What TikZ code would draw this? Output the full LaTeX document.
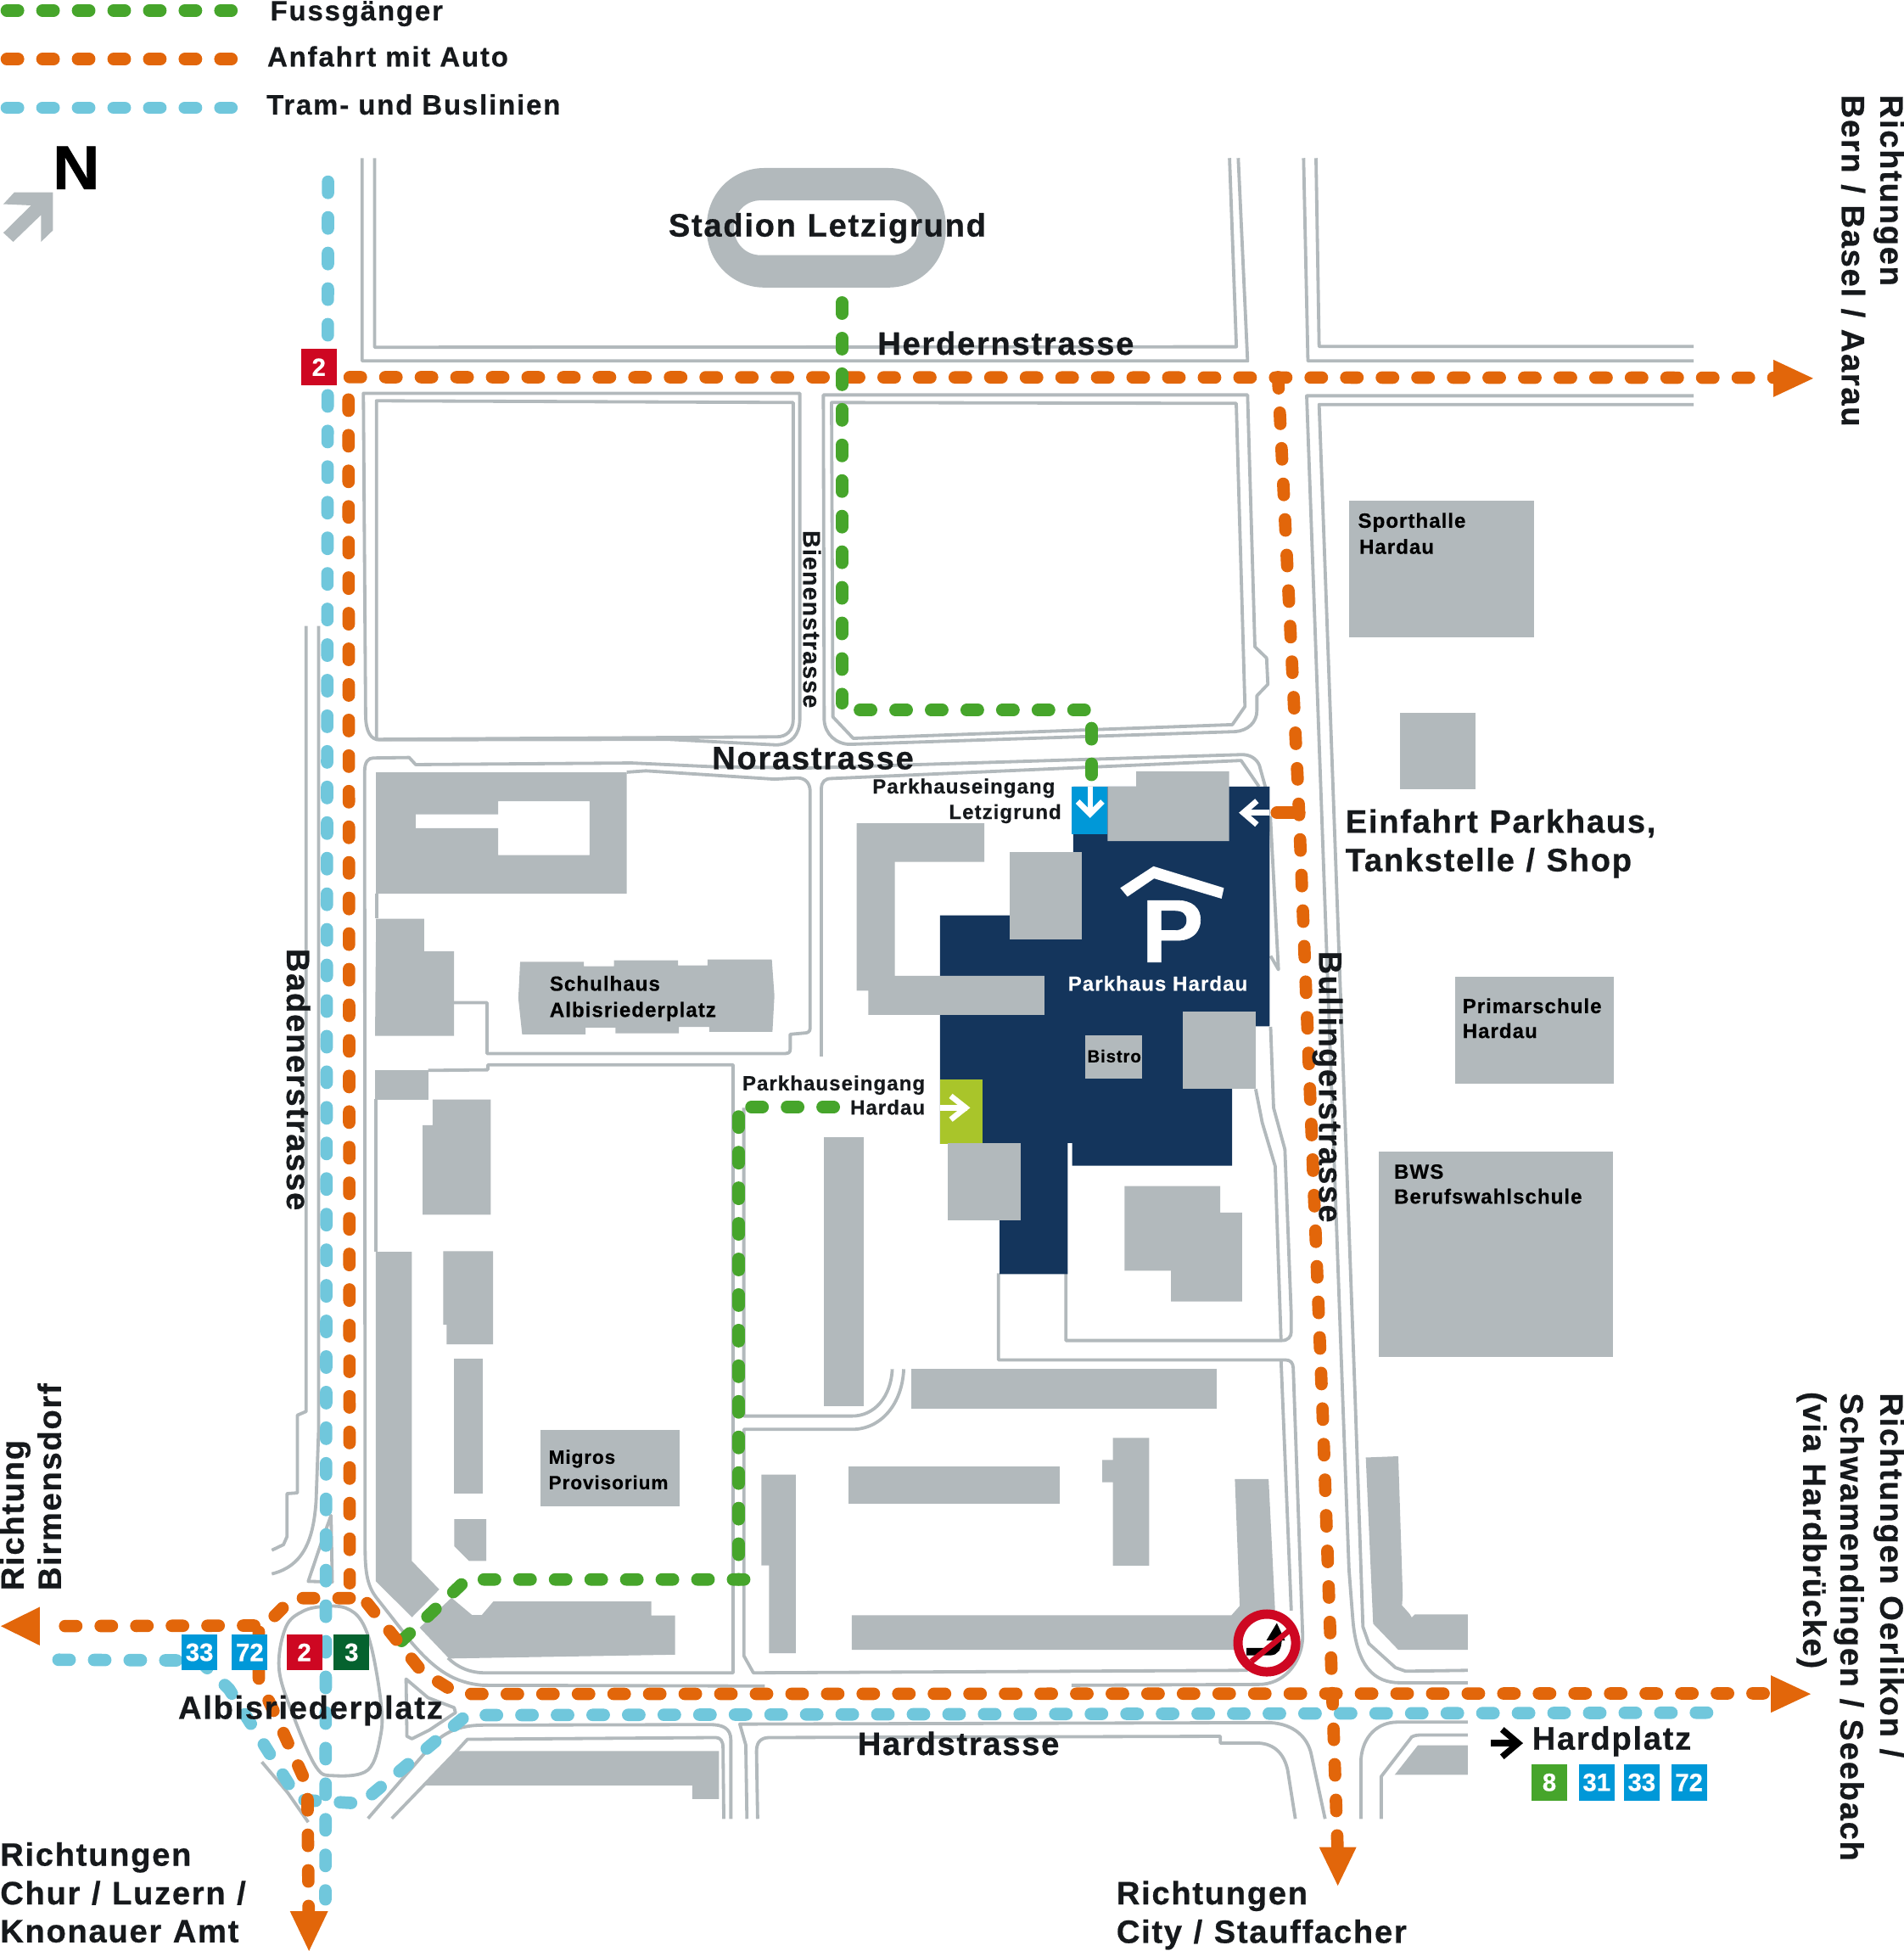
\documentclass[tikz,border=0pt]{standalone}
\usepackage{fontspec}
\usepackage{graphicx}
\setmainfont[BoldFeatures={FakeBold=0.6}]{Liberation Sans}
\newfontfamily\bigf[LetterSpace=4.5,WordSpace=1.1,BoldFeatures={FakeBold=0.6}]{Liberation Sans}
\newfontfamily\midf[LetterSpace=5.5,BoldFeatures={FakeBold=0.5}]{Liberation Sans}
\newfontfamily\smlf[LetterSpace=4,BoldFeatures={FakeBold=0.3}]{Liberation Sans}
\definecolor{bldg}{HTML}{B2B9BC}
\definecolor{navy}{HTML}{14355C}
\definecolor{orng}{HTML}{E2660A}
\definecolor{grn}{HTML}{46A52B}
\definecolor{tram}{HTML}{70C7DC}
\definecolor{blu}{HTML}{0098D8}
\definecolor{redd}{HTML}{CE0722}
\definecolor{dgrn}{HTML}{05622F}
\definecolor{lime}{HTML}{A9C52A}
\definecolor{ink}{HTML}{16191C}
\newcommand{\fs}[1]{\fontsize{#1}{#1}\selectfont}
\tikzset{
  road/.style={draw=bldg,line width=2.6pt,line join=round,fill=none},
  house/.style={fill=bldg,draw=none},
  route/.style={line width=10pt,line cap=round,dash pattern=on 9pt off 19.6pt},
  rgreen/.style={route,draw=grn},
  rorange/.style={route,draw=orng},
  rtram/.style={route,draw=tram},
  tiphead/.style={fill=orng,draw=none},
  biglab/.style={inner sep=0pt,anchor=base west,text=ink,font=\bigf\bfseries\fs{26}},
  midlab/.style={inner sep=0pt,anchor=base west,text=ink,font=\midf\bfseries\fs{22.5}},
  smalllab/.style={inner sep=0pt,anchor=base west,text=ink,font=\smlf\bfseries\fs{16.5}},
  houselab/.style={inner sep=0pt,anchor=base west,text=black,font=\smlf\bfseries\fs{16.5}},
  linebox/.style={inner sep=0pt,text=white,font=\bfseries\fs{20},minimum width=28.6pt,minimum height=29pt},
  whitearrow/.style={draw=white,line width=4.5pt,fill=none},
}
\begin{document}
\begin{tikzpicture}[x=1pt,y=-1pt]
\useasboundingbox (0,0) rectangle (1530,1567.5);

% ---------- roads ----------
\draw[road] (291,127)--(291,290)--(1002.5,290)--(995,127);
\draw[road] (301,127)--(301,279)--(993.5,278.6)--(988,127);
\draw[road] (1047.5,127)--(1051,290)--(1361,290);
\draw[road] (1057.5,127)--(1060,278.4)--(1361,278.4);
\draw[road] (1361,318)--(1050,318)--(1079,1125)--(1084,1261)--(1087,1300) .. controls (1090,1340) and (1105,1352) .. (1125,1352)--(1179.4,1352);
\draw[road] (1361,325)--(1060,325)--(1089,1125)--(1095.2,1307)--(1100,1320.5)--(1121.3,1339.8)--(1129.5,1342.7)--(1179.4,1342);
% block west of Bienenstrasse
\draw[road] (292,316)--(293.8,575) .. controls (294,588) and (298,594.4) .. (305,594.4)--(537,594)--(624,598.5) .. controls (636,598) and (642.7,590) .. (642.7,578)--(642.7,316)--cycle;
\draw[road] (302.5,322)--(637.4,323.4)--(637.4,578) .. controls (637.4,587) and (632,592) .. (624,592)--(302.5,594)--cycle;
% block east of Bienenstrasse
\draw[road] (1002.5,317.3)--(661.6,317.3)--(662.3,578.6) .. controls (663,590) and (672,598) .. (683.2,598)--(992.7,587.8) .. controls (1003,587) and (1010,580) .. (1010,571)--(1010,559)--(1018.8,549.8)--(1017.8,528.7)--(1008.4,519.6)--cycle;
\draw[road] (668.2,323.4)--(993.4,324.1)--(1000.4,567.6)--(990.3,582.2)--(685.6,593.2)--(669.3,576)--cycle;
% Norastrasse north line and west edge
\draw[road] (388,1354) .. controls (365,1352) and (350,1342) .. (331,1320)--(302,1283) .. controls (296,1275) and (293.4,1265) .. (293.4,1245)--(293,620) .. controls (293,612) and (296,609) .. (300,609)--(328.8,608.6)--(334,614.3)--(507.5,613)--(572.7,616)--(650,617)--(997.3,606.3) .. controls (1005,606) and (1010,610) .. (1012,615)--(1017,633);
\draw[road] (388,1354)--(614.5,1354.6);
% Norastrasse south, west part
\draw[road] (503.6,620.4)--(519,619.3)--(622.3,626)--(640.6,625) .. controls (647,625) and (651,629) .. (651,636)--(651,826) .. controls (651,829) and (649,830) .. (646,830)--(635,831)--(635,843) .. controls (635,846) and (633,846.5) .. (631,846.5)--(391.4,846.5)--(391.4,805.6)--(364.8,805.6);
\draw[road] (302.5,718)--(302.5,738);
\draw[road] (344,860)--(392,859.5)--(392,855.5)--(589,855.5)--(589,1344)--(390,1344) .. controls (378,1344) and (368,1340) .. (360,1332);
\draw[road] (302,883)--(302,1006);
% centre vertical and Norastrasse south, east part
\draw[road] (660,848.8)--(660,634) .. controls (660,628) and (663,625.5) .. (668,625.5)--(997.3,611)--(1011.7,632);
% right side of Parkhaus
\draw[road] (1020.8,655.6)--(1027.3,779)--(1021,768);
\draw[road] (1021,825)--(1023.4,890)--(1032.5,923.5)--(1037.6,1056.8)--(1037.6,1070) .. controls (1037.6,1074) and (1035,1077) .. (1030,1077)--(856.5,1077)--(856.5,1020);
\draw[road] (1009,875)--(1014.3,902)--(1024.7,937)--(1029.4,1077);
\draw[road] (802.3,1023)--(802.3,1092.6)--(1033,1092.6) .. controls (1037,1092.6) and (1039,1095) .. (1039.2,1099)--(1046.8,1315) .. controls (1046,1338) and (1030,1353.3) .. (1011.8,1353.3)--(861,1354);
\draw[road] (1029.4,1093)--(1037.6,1294);
% south of Migros block
\draw[road] (597.7,890)--(597.7,1137.7)--(684.5,1137.7) .. controls (703,1137.7) and (716,1122) .. (717,1100);
\draw[road] (726.2,1100) .. controls (725,1128) and (708,1148.4) .. (684.5,1148.4)--(597.8,1148.4)--(597.8,1330.4)--(605.4,1344)--(1002.6,1342);
% south of Hardstrasse
\draw[road] (295.7,1461)--(347.8,1401) .. controls (358,1392) and (368,1386) .. (388.7,1386)--(570.6,1385.6) .. controls (580,1385.6) and (587.3,1388) .. (587.3,1398)--(587.3,1461.3);
\draw[road] (314.8,1461)--(365,1409)--(375.6,1397.4)--(575.3,1396) .. controls (579,1396) and (581,1399) .. (581,1404)--(581.6,1461.3);
\draw[road] (600.2,1461.3)--(599.3,1402)--(594.5,1385.2)--(1020.3,1384) .. controls (1040,1385) and (1051,1396) .. (1053.8,1410)--(1064.8,1461.3);
\draw[road] (608.8,1461.3)--(607.9,1406.8) .. controls (608,1399) and (612,1396) .. (618.4,1396)--(980.6,1395)--(980.6,1400.4)--(1010.8,1400.4) .. controls (1025,1401) and (1032,1410) .. (1034.7,1422)--(1040.9,1461.3);
\draw[road] (1093.6,1461.4)--(1093.6,1413.6) .. controls (1095,1395) and (1107,1383.6) .. (1122.9,1383.6)--(1179.4,1383.6);
\draw[road] (1109.9,1461.4)--(1109.9,1427.3)--(1134.4,1395.5) .. controls (1137,1394) and (1140,1393.9) .. (1144,1393.9)--(1179.4,1393.9);
% Albisriederplatz
\draw[road] plot[smooth cycle,tension=0.6] coordinates {(260.9,1290.6)(278,1292)(290.4,1302.3)(299,1325.8)(306,1367.4)(306,1393.5)(295.7,1422)(267.8,1426.6)(254,1419.6)(236.5,1380.5)(224.3,1341.4)(229.6,1307.5)(243.5,1294.5)};
\draw[road] (246,503)--(246,1134)--(239,1137)--(239,1199.4)--(230.6,1200)--(230.6,1234.6)--(227.8,1241)--(218.4,1245.5);
\draw[road] (256,503)--(256,1150)--(254,1206) .. controls (252,1235) and (245,1258) .. (218.4,1264.5);
\draw[road] (266,1217.6)--(267,1271)--(247.7,1270.5)--(259,1237)--cycle;
\draw[road] (326.3,1349)--(344,1364)--(365,1372)--(366,1376)--(345,1390)--(331,1397)--(327,1395)--cycle;
\draw[road] (210.4,1415.6)--(231.3,1440.4)--(247.7,1464);

% ---------- Stadion ----------
\fill[house,even odd rule] [rounded corners=46pt] (568,135) rectangle (760,231) [rounded corners=21pt] (590,161) rectangle (738,205);

% ---------- Parkhaus ----------
\fill[navy] (862.4,632)--(1020.3,632)--(1020.3,824.6)--(990,824.6)--(990,936.6)--(861.6,936.6)--(861.6,918.3)--(858,918.3)--(858,1023.6)--(803.2,1023.6)--(803.2,919)--(755.4,919)--(755.4,735.4)--(862.4,735.4)--cycle;
\fill[blu] (861.4,632) rectangle (890,670);
\fill[lime] (755.4,867) rectangle (789.4,919);

% ---------- buildings ----------
\fill[house] (890,632)--(913,632)--(913,619.7)--(987.6,619.7)--(987.6,675.7)--(890,675.7)--cycle;
\fill[house] (811.5,684.5) rectangle (869,755);
\fill[house] (688.4,661.4)--(791,661.4)--(791,692.4)--(719,692.4)--(719,784)--(839.2,784)--(839.2,815.4)--(697.8,815.4)--(697.8,796)--(688.4,796)--cycle;
\fill[house] (871.8,831.6) rectangle (918,866.9);
\fill[house] (950.3,812.4) rectangle (1009,874.8);
\fill[house] (761.4,918.3) rectangle (820.4,980.7);
\fill[house] (903.6,953)--(980.6,953)--(980.6,974.3)--(998,974.3)--(998,1045.6)--(941,1045.6)--(941,1020.9)--(903.6,1020.9)--cycle;
\fill[house] (661.8,913.7) rectangle (694,1129.5);
\fill[house,even odd rule] (302.2,620.6)--(503.6,620.6)--(503.6,718)--(302.2,718)--cycle (334,654.3)--(400.3,654.3)--(400.3,643.8)--(473.8,643.8)--(473.8,687)--(400.3,687)--(400.3,665.4)--(334,665.4)--cycle;
\fill[house] (302.2,738.1)--(340.8,738.1)--(340.8,764.3)--(364.8,764.3)--(364.8,832.2)--(301.4,832.2)--cycle;
\fill[house] (418,772.7)--(469.2,772.7)--(469.2,776.3)--(493.4,776.3)--(493.4,771.5)--(544.8,771.5)--(544.8,775.6)--(568.6,775.6)--(568.6,770.9)--(620.2,770.9)--(622.3,800)--(620.7,829)--(569.9,829)--(569.9,825)--(545.6,825)--(545.6,830.2)--(494.5,830.2)--(494.5,825.6)--(470.5,825.6)--(470.5,831.1)--(419.6,831.1)--(416.5,802.2)--cycle;
\fill[house] (301.4,859.6) rectangle (344.3,883.4);
\fill[house] (347.7,883.4)--(394.4,883.4)--(394.4,976)--(339.7,976)--(339.7,904)--(347.7,904)--cycle;
\fill[house] (356.2,1005.2)--(396.2,1005.2)--(396.2,1080.1)--(358.9,1080.1)--(358.9,1064.2)--(356.2,1064.2)--cycle;
\fill[house] (365,1091.3) rectangle (387.9,1200.2);
\fill[house] (365,1220.6)--(390.8,1220.6)--(390.8,1254.1)--(376.9,1254.1)--(365,1242.3)--cycle;
\fill[house] (301.9,1005.8)--(330.9,1005.8)--(330.9,1254.1)--(353,1277)--(331.1,1299.3)--(301.9,1270.4)--cycle;
\fill[house] (337.2,1307.7)--(362.8,1283.7)--(379.4,1297.6)--(387.1,1297.6)--(396.4,1286.7)--(523.3,1286.7)--(523.3,1297.9)--(542.5,1297.9)--(542.5,1329.4)--(360.8,1332.5)--cycle;
\fill[house] (434.1,1149) rectangle (546.1,1210);
\fill[house] (732.3,1100) rectangle (977.4,1131.7);
\fill[house] (681.8,1178.4) rectangle (851.6,1208.5);
\fill[house] (894.3,1155.2)--(923.5,1155.2)--(923.5,1257.9)--(894.3,1257.9)--(894.3,1190.8)--(885.7,1190.8)--(885.7,1173)--(894.3,1173)--cycle;
\fill[house] (611.8,1184.8)--(639.5,1184.8)--(639.5,1328.2)--(617.9,1328.2)--(617.9,1257.6)--(611.8,1257.6)--cycle;
\fill[house] (684.5,1297.8)--(989.5,1297.8)--(996.2,1290.2)--(992.3,1188.3)--(1019.4,1188.3)--(1024.6,1293.7)--(1024.6,1325.5)--(684.5,1325.5)--cycle;
\fill[house] (1097.5,1171)--(1123.6,1170)--(1127.2,1281.8)--(1126.6,1289.8)--(1132.7,1296.6)--(1134.4,1299.5)--(1137,1297)--(1179.4,1297)--(1179.4,1325.5)--(1123.6,1325.5)--(1103.4,1304.5)--cycle;
\fill[house] (1139.3,1402.3)--(1179.4,1402.3)--(1179.4,1426)--(1120.7,1426)--cycle;
\fill[house] (367.2,1406.8)--(577.7,1406.8)--(577.7,1445.4)--(556.2,1445.4)--(556.2,1434.5)--(340.9,1434.5)--cycle;
\fill[house] (1084,402) rectangle (1233,512);
\fill[house] (1125,573) rectangle (1186,634);
\fill[house] (1169,785) rectangle (1297,871);
\fill[house] (1108,925) rectangle (1296,1090);

% north arrow
\fill[house] (11.5,154.5)--(42.6,154.5)--(42.6,185)--(33,194.3)--(33,172.7)--(10.6,194.3)--(2.7,187)--(25,165)--(2.7,164)--cycle;

% P symbol
\fill[white] (900.2,713.4)--(926.9,696)--(983.5,713.4)--(981.6,722)--(927.4,705.8)--(906,720.4)--cycle;
\node[name=psym,inner sep=0pt,anchor=base west,text=white,font=\bfseries\fs{72}] at (917,773) {\scalebox{1.04}[1]{P}};

% white entrance arrows
\draw[whitearrow] (876,632)--(876,653);
\draw[whitearrow] (866,644)--(876,654)--(886,644);
\draw[whitearrow] (1020,653)--(998,653);
\draw[whitearrow] (1010,643.5)--(999,653)--(1010,662.5);
\draw[whitearrow] (755.4,890)--(777,890);
\draw[whitearrow] (764,880.5)--(776,890)--(764,899.5);

% ---------- routes ----------
\draw[rtram] (263.6,146)--(261.5,1526);
\draw[rtram] (47,1333.5)--(145,1334);
\draw[rtram] (160,1334)--(184,1357)--(240,1446)--(290,1449)--(375,1378)--(1374,1376);
\draw[rgreen] (593.6,897)--(593.6,1269);
\draw[rgreen] (598,1269)--(375,1269)--(322,1319);
\draw[rorange] (281,303)--(1425,303.5);
\draw[rorange] (280,321)--(281,1272);
\draw[rorange] (281,1284)--(235,1284)--(213,1306)--(36,1306.5);
\draw[rorange] (208,1311)--(208,1350)--(220,1375)--(247,1435)--(248,1535);
\draw[rorange] (295,1288)--(339,1343)--(360,1356)--(379,1361)--(1423,1360.5);
\draw[rorange] (1027,303)--(1043,632)--(1063,1140)--(1075,1490);
\draw[orng,line width=10pt,line cap=round] (1026,653)--(1044,653);
\draw[rgreen] (676.5,243)--(676.5,565);
\draw[rgreen] (691,570.5)--(872,570.5);
\draw[rgreen] (877,585)--(877,628);
\draw[rgreen] (670,889.5)--(601,889.5);

% arrow heads
\fill[tiphead] (0.7,1306.5)--(32,1291)--(32,1322)--cycle;
\fill[tiphead] (233,1535.5)--(263.6,1535.5)--(248.3,1567.5)--cycle;
\fill[tiphead] (1425,289)--(1425,319)--(1457,304)--cycle;
\fill[tiphead] (1423,1346)--(1423,1376)--(1455,1361)--cycle;
\fill[tiphead] (1060,1484)--(1090,1484)--(1075,1515)--cycle;

% legend
\draw[rgreen] (5.5,8.4)--(186,8.4);
\draw[rorange] (5.5,47.5)--(186,47.5);
\draw[rtram] (5.5,86.6)--(186,86.6);

% line boxes
\node[linebox,fill=redd,name=topTwo] at (256.2,295) {2};
\node[linebox,fill=blu,name=w33] at (160.3,1327.5) {33};
\node[linebox,fill=blu,name=w72] at (200.7,1327.5) {72};
\node[linebox,fill=redd,name=w2] at (244.5,1327.5) {2};
\node[linebox,fill=dgrn,name=w3] at (282.5,1327.5) {3};
\node[linebox,fill=grn,name=h8] at (1245,1432) {8};
\node[linebox,fill=blu,name=h31] at (1283,1432) {31};
\node[linebox,fill=blu,name=h33] at (1319.2,1432) {33};
\node[linebox,fill=blu,name=h72] at (1357.2,1432) {72};

% Hardplatz arrow
\draw[black,line width=5pt] (1198,1400.5)--(1219,1400.5);
\draw[black,line width=5pt,fill=none] (1207,1389.5)--(1220,1400.5)--(1207,1411.5);

% no-U-turn sign
\fill[white] (1018,1320) circle (24pt);
\draw[black,line width=6pt] (1001.6,1327) -- (1020,1327) .. controls (1025,1327) and (1027,1324) .. (1027,1316);
\fill[black] (1017.6,1318)--(1032.6,1318)--(1026,1304)--cycle;
\draw[redd,line width=4.5pt] (1005.5,1335)--(1036,1310);
\draw[redd,line width=7.5pt] (1018,1320) circle (23.2pt);

% ---------- labels ----------
\node[midlab,name=lFuss] at (217,16.4) {Fussgänger};
\node[midlab,name=lAuto] at (214.6,53.4) {Anfahrt mit Auto};
\node[midlab,name=lTram] at (214,92) {Tram- und Buslinien};
\node[inner sep=0pt,anchor=base west,text=black,font=\bfseries\fs{50},name=lN] at (42,152) {\scalebox{1.05}[1]{N}};

\node[biglab,name=lStadion] at (537,190) {Stadion Letzigrund};
\node[biglab,name=lHerdern] at (705,285) {Herdernstrasse};
\node[biglab,name=lNora] at (572,618) {Norastrasse};
\node[biglab,name=lHard] at (689,1410) {Hardstrasse};
\node[biglab,name=lAlbis] at (143,1381) {Albisriederplatz};
\node[biglab,name=lEin1] at (1081,669) {Einfahrt Parkhaus,};
\node[biglab,name=lEin2] at (1081,700) {Tankstelle / Shop};
\node[biglab,rotate=-90,name=lBaden] at (230.5,762) {Badenerstrasse};
\node[biglab,rotate=-90,name=lBull] at (1060,764) {\scalebox{.985}[1]{Bullingerstrasse}};
\node[smalllab,rotate=-90,font=\smlf\bfseries\fs{19.5},name=lBiene] at (645.5,426) {Bienenstrasse};
\node[biglab,name=lHardpl] at (1231,1405.7) {Hardplatz};

\node[smalllab,anchor=base east,name=lPL1] at (848,637.5) {Parkhauseingang};
\node[smalllab,anchor=base east,name=lPL2] at (853,658) {Letzigrund};
\node[smalllab,anchor=base east,name=lPH1] at (743.5,876) {Parkhauseingang};
\node[smalllab,anchor=base east,name=lPH2] at (743.5,895.5) {Hardau};
\node[smalllab,text=white,name=lPark] at (858,796) {Parkhaus Hardau};
\node[houselab,font=\smlf\bfseries\fs{14},name=lBistro] at (873.5,853.5) {Bistro};
\node[houselab,name=lSp1] at (1091,424) {Sporthalle};
\node[houselab,name=lSp2] at (1092,445) {Hardau};
\node[houselab,name=lPr1] at (1175,814) {Primarschule};
\node[houselab,name=lPr2] at (1175,834) {Hardau};
\node[houselab,name=lBw1] at (1120,947) {BWS};
\node[houselab,name=lBw2] at (1120,967) {Berufswahlschule};
\node[houselab,name=lSc1] at (441.5,796) {Schulhaus};
\node[houselab,name=lSc2] at (441.5,817) {Albisriederplatz};
\node[houselab,font=\smlf\bfseries\fs{15.4},name=lMi1] at (440.7,1176) {Migros};
\node[houselab,font=\smlf\bfseries\fs{15.4},name=lMi2] at (440.7,1196.5) {Provisorium};

\node[biglab,rotate=-90,name=dB1] at (1511,76) {Richtungen};
\node[biglab,rotate=-90,name=dB2] at (1480,76) {Bern / Basel / Aarau};
\node[biglab,rotate=-90,name=dO1] at (1511,1119) {Richtungen Oerlikon /};
\node[biglab,rotate=-90,name=dO2] at (1479,1119) {Schwamendingen / Seebach};
\node[biglab,rotate=-90,name=dO3] at (1449,1118) {(via Hardbrücke)};
\node[biglab,rotate=90,name=dW1] at (19,1278) {Richtung};
\node[biglab,rotate=90,name=dW2] at (49,1278) {Birmensdorf};
\node[biglab,name=dC1] at (0,1499) {Richtungen};
\node[biglab,name=dC2] at (0,1530) {Chur / Luzern /};
\node[biglab,name=dC3] at (0,1560.5) {Knonauer Amt};
\node[biglab,name=dS1] at (897,1530) {Richtungen};
\node[biglab,name=dS2] at (897,1561) {City / Stauffacher};
\end{tikzpicture}
\end{document}
